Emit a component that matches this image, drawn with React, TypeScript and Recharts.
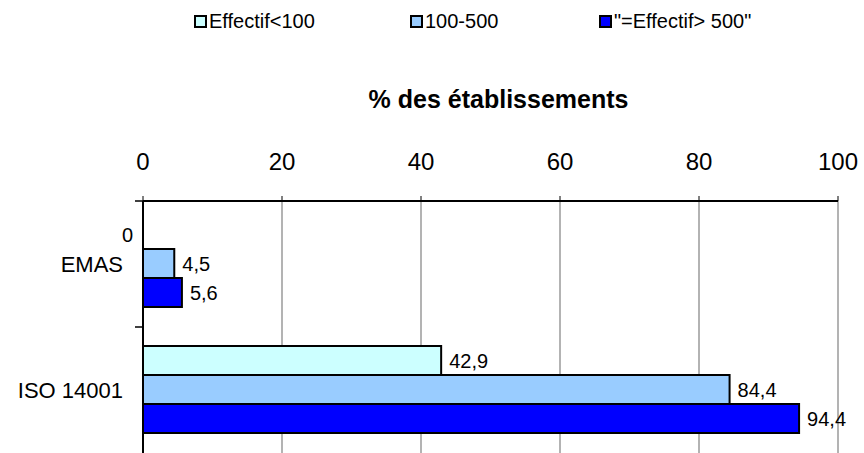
import React from 'react';
import { BarChart, Bar, XAxis, YAxis, CartesianGrid, Legend, Cell } from 'recharts';

const categories = ['EMAS', 'ISO 14001'];
const petits = [0, 42.9];       // Effectif<100
const moyens = [4.5, 84.4];     // 100-500
const grands = [5.6, 94.4];     // "=Effectif> 500"
const xTicks = [0, 20, 40, 60, 80, 100];

const series = [
  { key: 'petits', name: 'Effectif<100', color: '#CCFFFF', values: petits },
  { key: 'moyens', name: '100-500', color: '#99CCFF', values: moyens },
  { key: 'grands', name: '"=Effectif> 500"', color: '#0000FF', values: grands },
];

const data = categories.map((name, i) => ({
  name,
  petits: petits[i],
  moyens: moyens[i],
  grands: grands[i],
}));

const W = 864;
const H = 453;
const margin = { top: 141, right: 26, bottom: 0, left: 0 };
const xAxisHeight = 60;
const bandHalf = (H - margin.top - xAxisHeight - margin.bottom) / categories.length / 2;
const font = '"Liberation Sans", Arial, sans-serif';

const fmt = (v: number) => String(v).replace('.', ',');

const renderValueLabel = (props: any) => {
  const { x, y, width, height, value } = props;
  const cy = Number(y) + Number(height) / 2;
  const v = Array.isArray(value) ? value[1] : value;
  const isZero = !Number(v);
  return (
    <text
      x={isZero ? Number(x) - 10 : Number(x) + Number(width) + 8}
      y={cy}
      textAnchor={isZero ? 'end' : 'start'}
      dominantBaseline="central"
      fontSize={20}
      fill="#000"
      fontFamily={font}
    >
      {fmt(Number(v) || 0)}
    </text>
  );
};

const CategoryTick = (props: any) => {
  const { x, y, payload } = props;
  const axisX = Number(x) + 20;
  return (
    <g>
      <line x1={axisX - 8} x2={axisX} y1={y - bandHalf} y2={y - bandHalf} stroke="#000" strokeWidth={1.5} />
      <text x={x} y={y} textAnchor="end" dominantBaseline="central" fontSize={22} fill="#000" fontFamily={font}>
        {payload.value}
      </text>
    </g>
  );
};

const LegendBox = () => {
  const widths = [216, 189, 200];
  return (
    <div style={{ display: 'flex', paddingLeft: 194, paddingTop: 12, fontFamily: font, fontSize: 20, color: '#000' }}>
      {series.map((s, i) => (
        <div key={s.key} style={{ display: 'flex', alignItems: 'center', width: widths[i], whiteSpace: 'nowrap' }}>
          <span style={{ display: 'inline-block', width: 9, height: 9, background: s.color, border: '2px solid #000', marginRight: 2 }} />
          <span style={{ lineHeight: '18px' }}>{s.name}</span>
        </div>
      ))}
    </div>
  );
};

// a zero value keeps a hair-thin invisible bar so its "0" label still gets drawn
const minSize = (value: any) => (Number(value) === 0 ? 0.01 : 0);

export default function App() {
  return (
    <div style={{ width: W, height: H, background: '#fff' }}>
      <style>{`body{margin:0}`}</style>
      <BarChart
        width={W}
        height={H}
        data={data}
        layout="vertical"
        margin={margin}
        barCategoryGap={19}
        barGap={0}
      >
        <CartesianGrid horizontal={false} vertical={true} stroke="#808080" strokeWidth={1.2} />
        <XAxis
          type="number"
          orientation="top"
          domain={[0, 100]}
          ticks={xTicks}
          height={xAxisHeight}
          interval={0}
          axisLine={{ stroke: '#000', strokeWidth: 2 }}
          tickLine={{ stroke: '#000' }}
          tickSize={5}
          tickMargin={26}
          tick={{ fill: '#000', fontSize: 24, fontFamily: font }}
          label={{
            value: '% des établissements',
            position: 'top',
            offset: 33,
            dx: 8,
            fill: '#000',
            fontSize: 25,
            fontWeight: 'bold',
            fontFamily: font,
          }}
        />
        <YAxis
          type="category"
          dataKey="name"
          width={143}
          axisLine={{ stroke: '#000', strokeWidth: 2 }}
          tickLine={false}
          tickSize={0}
          tickMargin={20}
          tick={<CategoryTick />}
        />
        <Legend verticalAlign="middle" layout="horizontal" wrapperStyle={{ top: 0, left: 0, width: W }} content={<LegendBox />} />
        {series.map((s) => (
          <Bar
            key={s.key}
            dataKey={s.key}
            name={s.name}
            fill={s.color}
            stroke="#000"
            strokeWidth={2}
            minPointSize={minSize}
            isAnimationActive={false}
            label={renderValueLabel}
          >
            {s.values.map((v, i) => (
              <Cell key={i} stroke={v === 0 ? 'none' : '#000'} />
            ))}
          </Bar>
        ))}
      </BarChart>
    </div>
  );
}
